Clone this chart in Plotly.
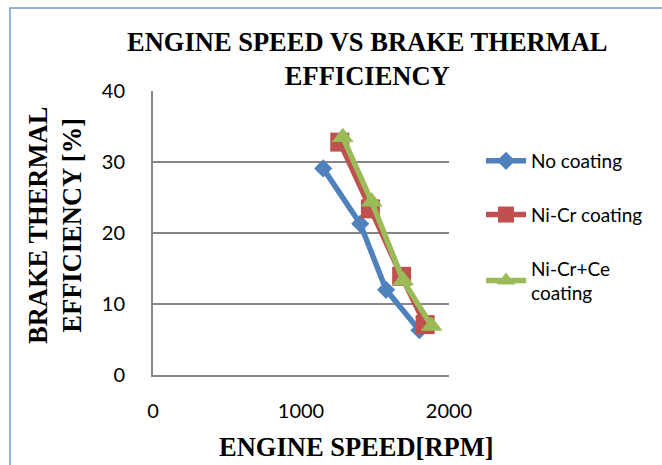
import plotly.graph_objects as go

# Data
series_names = ["No coating", "Ni-Cr coating", "Ni-Cr+Ce<br>coating"]
speed_no = [1150, 1400, 1575, 1800]
bte_no = [29.1, 21.3, 12.0, 6.3]
speed_nicr = [1262, 1469, 1680, 1839]
bte_nicr = [32.8, 23.4, 13.9, 7.1]
speed_nicrce = [1282, 1478, 1690, 1883]
bte_nicrce = [33.5, 24.4, 13.3, 6.9]

colors = ["#4F81BD", "#C0504D", "#9BBB59"]
symbols = ["diamond", "square", "triangle-up"]
msizes = [14, 19, 19]

xs = [speed_no, speed_nicr, speed_nicrce]
ys = [bte_no, bte_nicr, bte_nicrce]

fig = go.Figure()
for i in range(3):
    fig.add_trace(go.Scatter(
        x=xs[i], y=ys[i], mode="lines+markers", name=series_names[i],
        legendgroup=f"g{i}",
        line=dict(color=colors[i], width=5.5),
        marker=dict(symbol=symbols[i], size=msizes[i], color=colors[i]),
    ))

serif = "Liberation Serif"
sans = "Lato"

L, R, T, B = 153, 213, 91, 90
W, H = 662, 465
pw = W - L - R
ph = H - T - B

def px_x(px):
    return (px - L) / pw

def px_y(py):
    return (H - B - py) / ph

fig.update_layout(
    width=W, height=H,
    margin=dict(l=L, r=R, t=T, b=B),
    paper_bgcolor="white", plot_bgcolor="white",
    showlegend=True,
    legend=dict(
        x=px_x(481), y=px_y(142), xanchor="left", yanchor="top",
        font=dict(family=sans, size=19, color="black"),
        traceorder="grouped", tracegroupgap=26,
        itemwidth=40, bgcolor="rgba(0,0,0,0)",
    ),
    xaxis=dict(
        range=[0, 2000], dtick=1000, showgrid=False, zeroline=False,
        showline=True, linecolor="#868686", linewidth=2,
        tickfont=dict(family=sans, size=20, color="black"),
        ticks="", ticklabelstandoff=17,
    ),
    yaxis=dict(
        range=[0, 40], dtick=10, showgrid=True, gridcolor="#868686", gridwidth=1.5,
        zeroline=False, showline=True, linecolor="#868686", linewidth=2,
        tickfont=dict(family=sans, size=20, color="black"),
        ticks="", ticklabelstandoff=22,
    ),
    shapes=[dict(
        type="rect", xref="paper", yref="paper",
        x0=px_x(10), x1=px_x(800), y0=px_y(600), y1=px_y(8),
        line=dict(color="#6F9BD3", width=1.5), fillcolor="rgba(0,0,0,0)",
        layer="below",
    )],
    annotations=[
        dict(text="<b>ENGINE SPEED VS BRAKE THERMAL<br>EFFICIENCY</b>",
             xref="paper", yref="paper", x=px_x(367), y=px_y(59),
             xanchor="center", yanchor="middle", showarrow=False,
             font=dict(family=serif, size=26.5, color="black")),
        dict(text="<b>BRAKE THERMAL<br>EFFICIENCY [%]</b>",
             xref="paper", yref="paper", x=px_x(55), y=px_y(226),
             xanchor="center", yanchor="middle", showarrow=False, textangle=-90,
             font=dict(family=serif, size=26.5, color="black")),
        dict(text="<b>ENGINE SPEED[RPM]</b>",
             xref="paper", yref="paper", x=px_x(356), y=px_y(447),
             xanchor="center", yanchor="middle", showarrow=False,
             font=dict(family=serif, size=26.5, color="black")),
    ],
)

fig.write_html(
    "out.html",
    config={"displayModeBar": False},
    post_script="document.body.style.margin='0';document.body.style.overflow='hidden';",
)
